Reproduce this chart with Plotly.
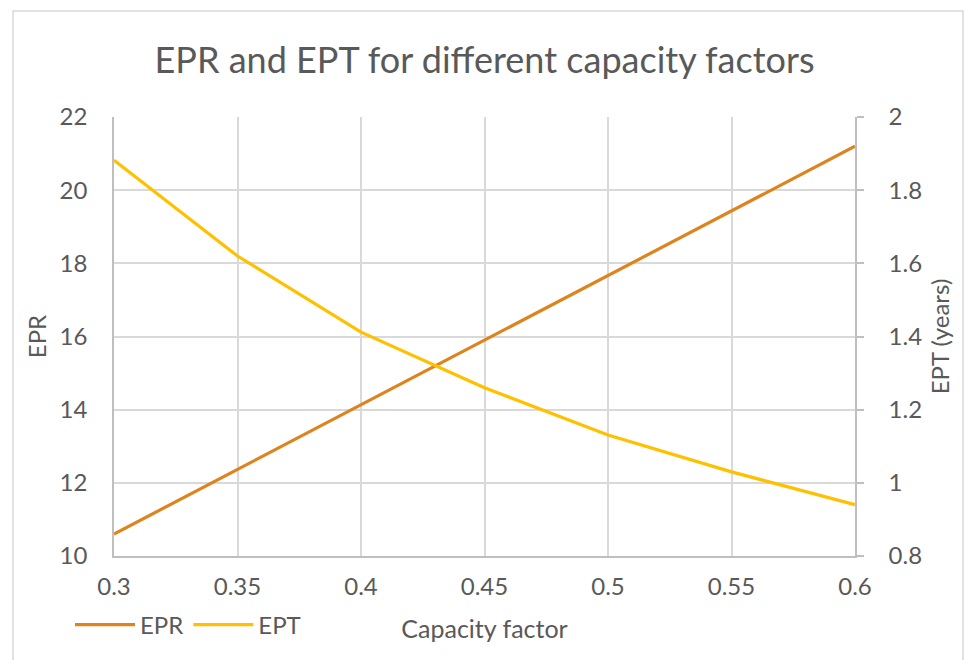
import plotly.graph_objects as go

# Capacity factor vs energy return ratio (EPR) and energy payback time (EPT)
capacity_factor = [0.30, 0.35, 0.40, 0.45, 0.50, 0.55, 0.60]
epr_values = [10.6, 12.37, 14.13, 15.9, 17.67, 19.43, 21.2]
ept_years = [1.882, 1.62, 1.412, 1.26, 1.131, 1.03, 0.94]

x_ticks = [0.3, 0.35, 0.4, 0.45, 0.5, 0.55, 0.6]
x_tick_text = ["0.3", "0.35", "0.4", "0.45", "0.5", "0.55", "0.6"]

EPR_COLOR = "#DD841E"
EPT_COLOR = "#FFC000"
TEXT = "#595959"
GRID = "#D9D9D9"
AXIS = "#BFBFBF"
FONT = "Lato"

W, H = 965, 660
L, R, T, B = 114, 855, 117, 556  # plot-area pixel edges


def px_x(p):
    return (p - L) / (R - L)


def px_y(p):
    return (B - p) / (B - T)


fig = go.Figure()
fig.add_trace(go.Scatter(x=capacity_factor, y=epr_values, name="EPR", mode="lines",
                         line=dict(color=EPR_COLOR, width=3.2), yaxis="y"))
fig.add_trace(go.Scatter(x=capacity_factor, y=ept_years, name="EPT", mode="lines",
                         line=dict(color=EPT_COLOR, width=3.2), yaxis="y2"))

fig.update_layout(
    width=W, height=H,
    margin=dict(l=L, r=W - R, t=T, b=H - B),
    paper_bgcolor="white", plot_bgcolor="white",
    font=dict(family=FONT, color=TEXT, size=24),
    title=dict(text="EPR and EPT for different capacity factors",
               x=0.5, xref="paper", xanchor="center",
               y=1 - 60 / H, yanchor="middle",
               font=dict(size=36, color=TEXT, family=FONT)),
    xaxis=dict(range=[0.3, 0.6], tickvals=x_ticks, ticktext=x_tick_text,
               showgrid=True, gridcolor=GRID, gridwidth=1.5,
               showline=True, linecolor=AXIS, linewidth=1.5,
               ticks="", ticklabelstandoff=8, zeroline=False,
               title=dict(text="Capacity factor", standoff=22, font=dict(size=25))),
    yaxis=dict(range=[10, 22], dtick=2, showgrid=True, gridcolor=GRID, gridwidth=1.5,
               showline=True, linecolor=AXIS, linewidth=1.5, ticks="",
               ticklabelstandoff=20, zeroline=False,
               title=dict(text="EPR", standoff=6, font=dict(size=24))),
    yaxis2=dict(range=[0.8, 2.0], dtick=0.2, overlaying="y", side="right",
                showgrid=False, showline=True, linecolor=AXIS, linewidth=1.5,
                ticks="outside", ticklen=7, tickcolor=AXIS, tickwidth=1.5,
                tickformat="~g", ticklabelstandoff=20, zeroline=False,
                title=dict(text="EPT (years)", standoff=11, font=dict(size=24))),
    legend=dict(orientation="h", x=px_x(70), xanchor="left",
                y=px_y(625), yanchor="middle",
                font=dict(size=24, color=TEXT), bgcolor="rgba(0,0,0,0)",
                itemwidth=60, tracegroupgap=0),
    showlegend=True,
    shapes=[dict(type="rect", xref="paper", yref="paper",
                 x0=px_x(13), x1=px_x(963), y0=px_y(11), y1=px_y(700),
                 line=dict(color=GRID, width=1.5), fillcolor="rgba(0,0,0,0)",
                 layer="below")],
)

fig.write_html("out.html")
